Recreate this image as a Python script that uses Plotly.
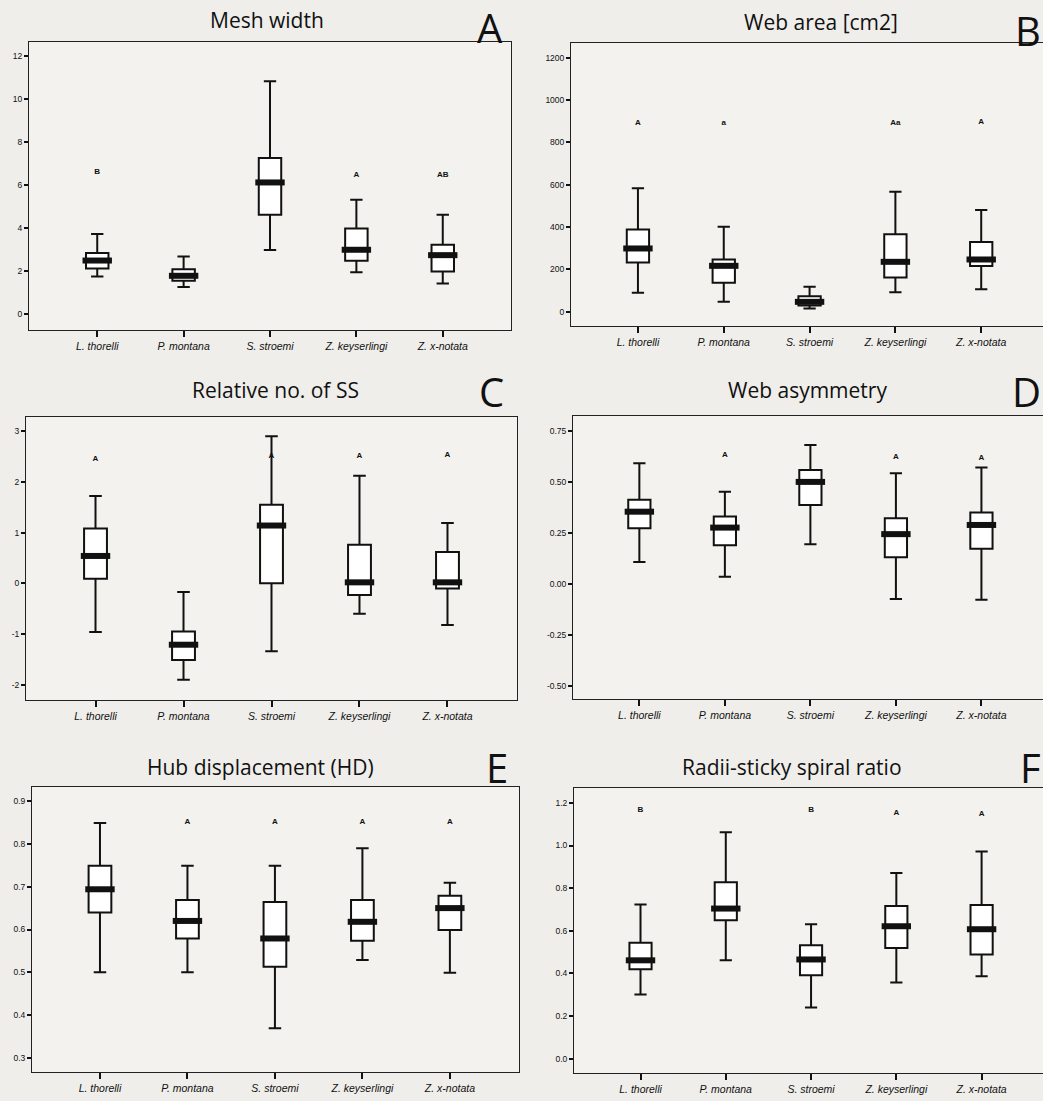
import plotly.graph_objects as go

W, H = 1043, 1101

species = ["L. thorelli", "P. montana", "S. stroemi", "Z. keyserlingi", "Z. x-notata"]

# ---- Panel A: Mesh width ----
a_low = [1.75, 1.26, 2.98, 1.94, 1.42]
a_q1 = [2.12, 1.55, 4.62, 2.48, 1.98]
a_med = [2.49, 1.78, 6.12, 2.99, 2.74]
a_q3 = [2.84, 2.09, 7.26, 3.98, 3.22]
a_high = [3.72, 2.68, 10.82, 5.32, 4.62]
a_letters = ["B", "", "", "A", "AB"]
a_letter_y = [6.6, None, None, 6.48, 6.48]

# ---- Panel B: Web area ----
b_low = [90, 47, 16, 92, 107]
b_q1 = [233, 137, 30, 162, 216]
b_med = [299, 217, 47, 236, 247]
b_q3 = [389, 247, 74, 366, 329]
b_high = [583, 401, 118, 567, 481]
b_letters = ["A", "a", "", "Aa", "A"]
b_letter_y = [890, 890, None, 893, 896]

# ---- Panel C: Relative no. of SS ----
c_low = [-0.96, -1.90, -1.34, -0.60, -0.82]
c_q1 = [0.09, -1.51, 0.0, -0.23, -0.10]
c_med = [0.54, -1.21, 1.14, 0.02, 0.02]
c_q3 = [1.08, -0.95, 1.55, 0.76, 0.62]
c_high = [1.72, -0.17, 2.90, 2.12, 1.19]
c_letters = ["A", "", "A", "A", "A"]
c_letter_y = [2.45, None, 2.52, 2.52, 2.53]

# ---- Panel D: Web asymmetry ----
d_low = [0.106, 0.034, 0.194, -0.075, -0.079]
d_q1 = [0.272, 0.189, 0.386, 0.130, 0.171]
d_med = [0.353, 0.275, 0.499, 0.243, 0.288]
d_q3 = [0.411, 0.329, 0.557, 0.321, 0.349]
d_high = [0.590, 0.451, 0.680, 0.541, 0.569]
d_letters = ["", "A", "", "A", "A"]
d_letter_y = [None, 0.629, None, 0.623, 0.618]

# ---- Panel E: Hub displacement ----
e_low = [0.500, 0.500, 0.369, 0.529, 0.499]
e_q1 = [0.640, 0.579, 0.513, 0.574, 0.599]
e_med = [0.694, 0.620, 0.579, 0.618, 0.650]
e_q3 = [0.749, 0.669, 0.664, 0.669, 0.679]
e_high = [0.849, 0.749, 0.749, 0.790, 0.709]
e_letters = ["", "A", "A", "A", "A"]
e_letter_y = [None, 0.852, 0.852, 0.852, 0.852]

# ---- Panel F: Radii-sticky spiral ratio ----
f_low = [0.300, 0.461, 0.239, 0.357, 0.386]
f_q1 = [0.419, 0.649, 0.391, 0.519, 0.488]
f_med = [0.461, 0.704, 0.465, 0.621, 0.607]
f_q3 = [0.543, 0.828, 0.532, 0.716, 0.721]
f_high = [0.723, 1.062, 0.630, 0.871, 0.972]
f_letters = ["B", "", "B", "A", "A"]
f_letter_y = [1.169, None, 1.169, 1.153, 1.148]

titles = ["Mesh width", "Web area [cm2]", "Relative no. of SS",
          "Web asymmetry", "Hub displacement (HD)", "Radii-sticky spiral ratio"]
panel_ids = ["A", "B", "C", "D", "E", "F"]

y_tickvals = [
    [0, 2, 4, 6, 8, 10, 12],
    [0, 200, 400, 600, 800, 1000, 1200],
    [-2, -1, 0, 1, 2, 3],
    [-0.5, -0.25, 0.0, 0.25, 0.5, 0.75],
    [0.3, 0.4, 0.5, 0.6, 0.7, 0.8, 0.9],
    [0.0, 0.2, 0.4, 0.6, 0.8, 1.0, 1.2],
]
y_ticktext = [
    ["0", "2", "4", "6", "8", "10", "12"],
    ["0", "200", "400", "600", "800", "1000", "1200"],
    ["-2", "-1", "0", "1", "2", "3"],
    ["-0.50", "-0.25", "0.00", "0.25", "0.50", "0.75"],
    ["0.3", "0.4", "0.5", "0.6", "0.7", "0.8", "0.9"],
    ["0.0", "0.2", "0.4", "0.6", "0.8", "1.0", "1.2"],
]
y_ranges = [[-0.74, 12.65], [-67, 1269], [-2.30, 3.28],
            [-0.565, 0.822], [0.267, 0.933], [-0.068, 1.270]]

# pixel frames (left, right, top, bottom)
frames = [(29, 511, 42, 330), (571, 1043, 43, 326),
          (26, 517, 417, 700), (573, 1043, 416, 699),
          (32, 519, 787, 1072), (574, 1043, 788, 1073)]
x_ranges = [[-0.79, 4.79], [-0.78, 4.72], [-0.79, 4.79],
            [-0.776, 4.72], [-0.777, 4.79], [-0.78, 4.72]]

title_pos = [(267, 20), (821, 22), (275, 390), (807, 390), (260, 767), (792, 767)]
# (x, y, anchor)
letter_pos = [(490, 27, "center"), (1043, 31, "right"), (491, 392, "center"),
              (1043, 392, "right"), (497, 767, "center"), (1043, 767, "right")]

data = [
    (a_low, a_q1, a_med, a_q3, a_high, a_letters, a_letter_y),
    (b_low, b_q1, b_med, b_q3, b_high, b_letters, b_letter_y),
    (c_low, c_q1, c_med, c_q3, c_high, c_letters, c_letter_y),
    (d_low, d_q1, d_med, d_q3, d_high, d_letters, d_letter_y),
    (e_low, e_q1, e_med, e_q3, e_high, e_letters, e_letter_y),
    (f_low, f_q1, f_med, f_q3, f_high, f_letters, f_letter_y),
]

fig = go.Figure()
layout = dict(
    width=W, height=H, showlegend=False,
    paper_bgcolor="#efeeea", plot_bgcolor="#f3f2ee",
    margin=dict(l=0, r=0, t=0, b=0),
    font=dict(family="Liberation Sans, Arial, sans-serif", color="#111"),
    annotations=[],
)

for i, (low, q1, med, q3, high, letters, ly) in enumerate(data):
    n = i + 1
    xa = "x" if n == 1 else f"x{n}"
    ya = "y" if n == 1 else f"y{n}"
    fig.add_trace(go.Box(
        x=species, q1=q1, median=med, q3=q3, lowerfence=low, upperfence=high,
        xaxis=xa, yaxis=ya, fillcolor="white",
        line=dict(color="#111", width=2), width=0.26, whiskerwidth=0.55,
        boxpoints=False, hoverinfo="skip",
    ))
    fig.add_trace(go.Scatter(
        x=species, y=med, xaxis=xa, yaxis=ya, mode="markers",
        marker=dict(symbol="line-ew", size=21, color="#111",
                    line=dict(color="#111", width=6)),
        hoverinfo="skip",
    ))
    lx = [s for s, t in zip(species, letters) if t]
    lyv = [v for v, t in zip(ly, letters) if t]
    lt = ["<b>" + t + "</b>" for t in letters if t]
    fig.add_trace(go.Scatter(
        x=lx, y=lyv, text=lt, xaxis=xa, yaxis=ya, mode="text",
        textfont=dict(size=8, family="Liberation Sans, Arial", color="#111"),
        textposition="middle center", hoverinfo="skip",
    ))

    l, r, t, b = frames[i]
    xkey = "xaxis" if n == 1 else f"xaxis{n}"
    ykey = "yaxis" if n == 1 else f"yaxis{n}"
    layout[xkey] = dict(
        domain=[l / W, r / W], anchor=ya, type="category",
        categoryorder="array", categoryarray=species, range=x_ranges[i],
        showline=True, linecolor="#222", linewidth=1, mirror=True,
        ticks="outside", ticklen=6, tickwidth=2, tickcolor="#111",
        tickfont=dict(size=10.5, family="Liberation Sans, Arial", style="italic"),
        showgrid=False, zeroline=False, fixedrange=True,
    )
    layout[ykey] = dict(
        domain=[1 - b / H, 1 - t / H], anchor=xa, range=y_ranges[i],
        tickvals=y_tickvals[i], ticktext=y_ticktext[i],
        showline=True, linecolor="#222", linewidth=1, mirror=True,
        ticks="outside", ticklen=4, tickwidth=1.5, tickcolor="#111",
        tickfont=dict(size=8.5, family="Liberation Sans, Arial"),
        showgrid=False, zeroline=False, fixedrange=True,
    )
    tx, ty = title_pos[i]
    layout["annotations"].append(dict(
        text=titles[i], x=tx / W, y=1 - ty / H, xref="paper", yref="paper",
        showarrow=False, xanchor="center", yanchor="middle",
        font=dict(size=21, family="Open Sans, Noto Sans, sans-serif", color="#111"),
    ))
    px_, py_, anc = letter_pos[i]
    layout["annotations"].append(dict(
        text=panel_ids[i], x=px_ / W, y=1 - py_ / H, xref="paper", yref="paper",
        showarrow=False, xanchor=anc, yanchor="middle",
        font=dict(size=40, family="Open Sans, Noto Sans, sans-serif", color="#111"),
    ))

fig.update_layout(**layout)
fig.write_html("out.html", config={"displayModeBar": False},
               post_script="document.body.style.margin='0';document.body.style.overflow='hidden';")
